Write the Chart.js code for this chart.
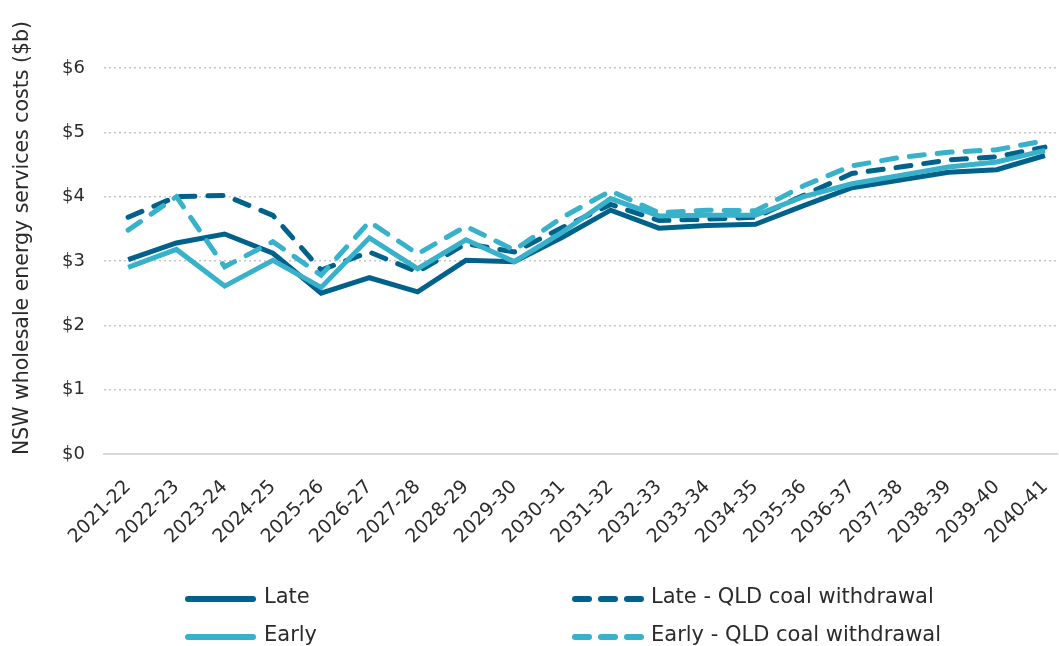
<!DOCTYPE html>
<html>
<head>
<meta charset="utf-8">
<script src="https://cdn.jsdelivr.net/npm/chart.js@4"></script>
<style>
html,body{margin:0;padding:0;background:#fff;}
#wrap{position:relative;width:1059px;height:646px;}
</style>
</head>
<body>
<div id="wrap"><canvas id="c" width="1059" height="646"></canvas></div>
<script>
const categories = ['2021-22','2022-23','2023-24','2024-25','2025-26','2026-27','2027-28','2028-29','2029-30','2030-31','2031-32','2032-33','2033-34','2034-35','2035-36','2036-37','2037-38','2038-39','2039-40','2040-41'];
const late     = [3.02,3.28,3.42,3.12,2.50,2.74,2.52,3.01,2.99,3.37,3.79,3.51,3.55,3.57,3.86,4.14,4.26,4.38,4.42,4.64];
const early    = [2.90,3.18,2.61,3.01,2.59,3.36,2.88,3.33,2.99,3.45,3.97,3.70,3.71,3.71,4.00,4.20,4.33,4.46,4.54,4.72];
const lateQld  = [3.68,4.00,4.02,3.71,2.86,3.14,2.83,3.27,3.14,3.52,3.88,3.63,3.65,3.68,4.02,4.36,4.46,4.57,4.62,4.77];
const earlyQld = [3.48,4.00,2.91,3.30,2.78,3.61,3.11,3.54,3.17,3.68,4.09,3.75,3.79,3.78,4.17,4.48,4.61,4.69,4.73,4.87];
const yTicks = [0,1,2,3,4,5,6];
const yTitle = 'NSW wholesale energy services costs ($b)';

const DARK = '#00618a';
const LIGHT = '#38b1ca';
const FONT = "'DejaVu Sans', sans-serif";
const TXT = '#2b2b2b';

const pts = arr => arr.map((v,i)=>({x:i,y:v}));

const series = [
  {label:'Late', data:late, color:DARK, dash:[], order:4},
  {label:'Late - QLD coal withdrawal', data:lateQld, color:DARK, dash:[15,13], order:3},
  {label:'Early', data:early, color:LIGHT, dash:[], order:2},
  {label:'Early - QLD coal withdrawal', data:earlyQld, color:LIGHT, dash:[15,13], order:1}
];

const legendPlugin = {
  id:'customLegend',
  afterDraw(chart){
    const ctx = chart.ctx;
    ctx.save();
    ctx.translate(23, 238);
    ctx.rotate(-Math.PI/2);
    ctx.font = "20.5px " + FONT;
    ctx.fillStyle = TXT;
    ctx.textAlign = 'center';
    ctx.textBaseline = 'middle';
    ctx.fillText(yTitle, 0, 0);
    ctx.restore();

    const pos = [
      {x:185, y:599}, {x:572, y:599}, {x:185, y:637}, {x:572, y:637}
    ];
    ctx.save();
    chart.data.datasets.forEach((ds, i) => {
      const p = pos[i];
      ctx.beginPath();
      ctx.strokeStyle = ds.borderColor;
      ctx.lineWidth = 6;
      ctx.lineCap = 'round';
      if (ds.borderDash && ds.borderDash.length) {
        ctx.setLineDash([14,12]);
        ctx.moveTo(p.x+3, p.y);
        ctx.lineTo(p.x+69, p.y);
      } else {
        ctx.setLineDash([]);
        ctx.moveTo(p.x+3, p.y);
        ctx.lineTo(p.x+68, p.y);
      }
      ctx.stroke();
      ctx.setLineDash([]);
      ctx.font = "21px " + FONT;
      ctx.fillStyle = TXT;
      ctx.textAlign = 'left';
      ctx.textBaseline = 'middle';
      ctx.fillText(ds.label, p.x+79, p.y - 1);
    });
    ctx.restore();
  }
};

new Chart(document.getElementById('c'), {
  type:'line',
  data:{
    datasets: series.map(s => ({
      label:s.label,
      data:pts(s.data),
      borderColor:s.color,
      backgroundColor:s.color,
      borderDash:s.dash,
      borderWidth:5,
      pointRadius:0,
      tension:0,
      fill:false,
      order:s.order,
      borderCapStyle:s.dash.length ? 'round' : 'butt',
      borderJoinStyle:'miter'
    }))
  },
  options:{
    responsive:false,
    animation:false,
    layout:{padding:{top:68, right:2, left:0, bottom:0}},
    plugins:{legend:{display:false}, tooltip:{enabled:false}},
    scales:{
      x:{
        type:'linear',
        min:-0.5, max:categories.length-1+0.25,
        afterBuildTicks(axis){ axis.ticks = categories.map((_,i)=>({value:i})); },
        afterFit(axis){ axis.height = 646-454; axis.paddingLeft = 0; axis.paddingRight = 0; },
        ticks:{
          callback:(v)=>categories[v] ?? '',
          minRotation:45, maxRotation:45, autoSkip:false,
          font:{family:FONT, size:19}, color:TXT, padding:22
        },
        grid:{display:false, drawTicks:false},
        border:{display:true, color:'#d9d9d9', width:2}
      },
      y:{
        min:0, max:6,
        afterBuildTicks(axis){ axis.ticks = yTicks.map(v=>({value:v})); },
        afterFit(axis){ axis.width = 104; axis.paddingTop = 0; axis.paddingBottom = 0; },
        ticks:{
          callback:v=>'$'+v,
          font:{family:FONT, size:18}, color:TXT, padding:19
        },
        grid:{color:'#c6c6c6', lineWidth:1.5, drawTicks:false},
        border:{display:false, dash:[2,3]}
      }
    }
  },
  plugins:[legendPlugin]
});
</script>
</body>
</html>
